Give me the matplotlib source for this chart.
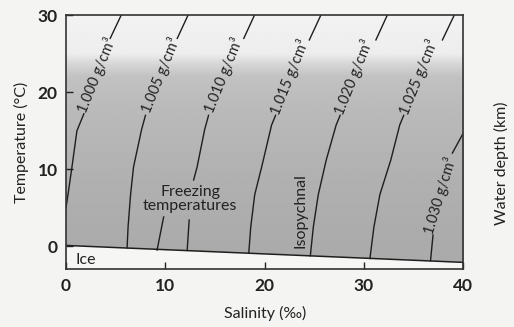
import numpy as np
import matplotlib
matplotlib.use("Agg")
import matplotlib.pyplot as plt

plt.rcParams['font.family'] = ['Lato', 'DejaVu Sans']

nan = np.nan

# freezing line (salinity, temperature)
freeze_S = [0, 10, 20, 30, 40]
freeze_T = [0.1, -0.45, -1.0, -1.55, -2.1]

# isopycnals; nan = gap for the label
densities = ["1.000", "1.005", "1.010", "1.015", "1.020", "1.025", "1.030"]
iso_S = [
    [5.55, 4.45, nan, 1.8, 1.1, 0.6, 0.2, 0.0],
    [12.28, 11.2, nan, 8.0, 7.6, 6.8, 6.5, 6.25, 6.15],
    [18.97, 17.9, nan, 14.35, 13.95, 13.2, 12.85, nan, 12.4, 12.2],
    [25.65, 24.5, nan, 21.1, 20.7, 19.7, 19.0, 18.6, 18.4],
    [32.34, 31.2, nan, 27.6, 27.2, 26.2, 25.4, 24.9, 24.6],
    [39.08, 37.9, nan, 34.0, 33.6, 32.7, 31.6, 31.0, 30.6],
    [40.0, 38.9, nan, 36.95, 36.7],
]
iso_T = [
    [30, 27.0, nan, 17.2, 15.0, 10.3, 6.7, 5.0],
    [30, 27.0, nan, 17.0, 15.1, 10.3, 6.7, 2.5, -0.2],
    [30, 27.0, nan, 17.0, 15.1, 10.3, 8.6, nan, 3.4, -0.55],
    [30, 26.8, nan, 17.0, 15.75, 10.3, 6.7, 2.5, -0.9],
    [30, 26.8, nan, 17.0, 15.75, 11.2, 6.7, 2.5, -1.25],
    [30, 26.8, nan, 17.0, 15.75, 11.2, 6.7, 2.5, -1.6],
    [14.7, 12.1, nan, 1.45, -1.9],
]
label_S = [3.1, 9.5, 15.9, 22.55, 28.95, 35.45, 37.7]
label_T = [22.2, 22.2, 22.2, 22.0, 22.0, 22.0, 6.6]
label_rot = [68, 68, 68, 68, 68, 68, 73]

# pointer from the "Freezing temperatures" note down to the freezing line
pointer_S = [9.83, 9.17]
pointer_T = [3.8, -0.5]

line_c = '#1e1e1e'
text_c = '#222222'

fig = plt.figure(figsize=(5.14, 3.27), dpi=100, facecolor='#f4f4f2')
ax = fig.add_axes([66/514, 1 - 269.3/327, (463.3 - 66)/514, (269.3 - 15.3)/327])

# grey shading, light above ~24 C
grad_T = np.linspace(-3, 30, 400)
shade = np.interp(grad_T, [-3, 0, 8, 18, 22, 23.5, 25, 30],
                  [0.67, 0.67, 0.69, 0.73, 0.76, 0.83, 0.93, 0.95])
ax.imshow(np.tile(shade[:, None], (1, 2)), extent=[0, 40, -3, 30], origin='lower',
          aspect='auto', cmap='gray', vmin=0, vmax=1, zorder=0)
ax.fill_between(freeze_S, -3, freeze_T, color='#f6f6f4', zorder=1)
ax.plot(freeze_S, freeze_T, color=line_c, lw=1.1, zorder=3)

for s, t in zip(iso_S, iso_T):
    ax.plot(s, t, color=line_c, lw=1.0, zorder=3)
for d, s, t, r in zip(densities, label_S, label_T, label_rot):
    ax.text(s, t, d + " g/cm³", rotation=r, rotation_mode='anchor', ha='center',
            va='center', fontsize=10.5, color=text_c, zorder=4)
ax.plot(pointer_S, pointer_T, color=line_c, lw=1.0, zorder=3)

ax.text(12.5, 6.1, "Freezing\ntemperatures", ha='center', va='center', fontsize=11.5,
        color=text_c, linespacing=1.0, zorder=4)
ax.text(23.6, 4.6, "Isopychnal", rotation=90, ha='center', va='center', fontsize=11.5,
        color=text_c, zorder=4)
ax.text(1.0, -1.75, "Ice", ha='left', va='center', fontsize=11.5, color=text_c, zorder=4)

ax.set_xlim(0, 40)
ax.set_ylim(-3, 30)
ax.set_xticks([0, 10, 20, 30, 40])
ax.set_yticks([0, 10, 20, 30])
ax.tick_params(direction='in', length=5, width=1, labelsize=12.5, colors=text_c, pad=6)
for lbl in ax.get_xticklabels() + ax.get_yticklabels():
    lbl.set_fontweight('bold')
for sp in ax.spines.values():
    sp.set_color('#333333')
    sp.set_linewidth(1.2)
    sp.set_zorder(5)

ax.set_xlabel("Salinity (‰)", fontsize=11.5, color=text_c, labelpad=9)
ax.set_ylabel("Temperature (°C)", fontsize=11.5, color=text_c, labelpad=6)
fig.text(501/514, 1 - 163/327, "Water depth (km)", rotation=90, ha='center', va='center',
         fontsize=11.5, color=text_c)

fig.savefig("out.png", dpi=100, facecolor=fig.get_facecolor())
